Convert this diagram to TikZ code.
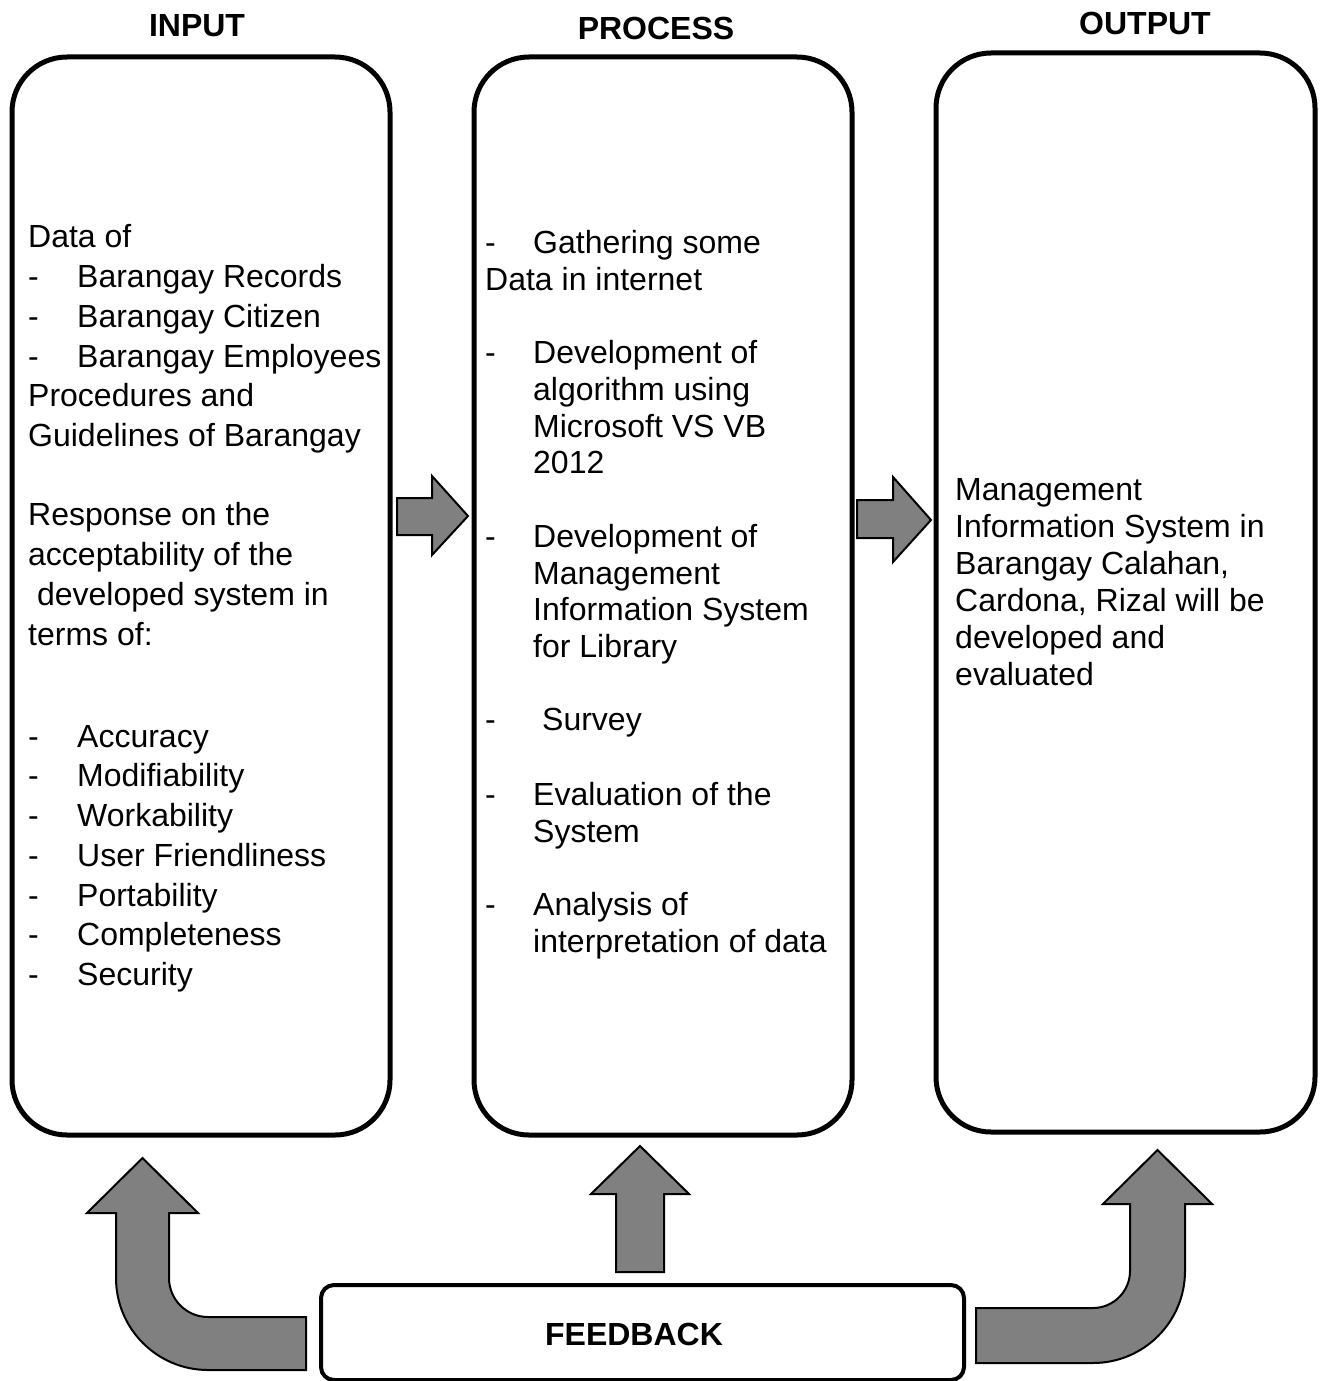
\documentclass[tikz,border=0pt]{standalone}
\usepackage{fontspec}
\setmainfont{Liberation Sans}
\definecolor{arrowgray}{HTML}{808080}
\newcommand\myDash[1][49pt]{\makebox[#1][l]{-}}
\begin{document}
\begin{tikzpicture}[x=1pt,y=-1pt,
  bigbox/.style={draw, line width=5pt, rounded corners=55pt, inner sep=0pt},
  fbbox/.style={draw, line width=4pt, rounded corners=13pt, inner sep=0pt},
  txt/.style={inner sep=0pt, anchor=base west, font=\fontsize{32}{37}\selectfont},
  head/.style={inner sep=0pt, anchor=base, font=\fontsize{32}{37}\selectfont\bfseries},
  blockarrow/.style={draw, line width=2pt, fill=arrowgray, line join=miter}]
\useasboundingbox (0,0) rectangle (1327,1381);

% headers
\node[head] (hin) at (197,37) {INPUT};
\node[head] (hpr) at (656,40) {PROCESS};
\node[head] (hout) at (1145,35) {OUTPUT};

% boxes
\node[bigbox, minimum width=378pt, minimum height=1078pt] (input) at (201,596) {};
\node[bigbox, minimum width=378pt, minimum height=1078pt] (process) at (663,596) {};
\node[bigbox, minimum width=379pt, minimum height=1079pt] (output) at (1125.5,592.5) {};
\node[fbbox, minimum width=643pt, minimum height=95pt] (feedback) at (642.5,1332.5) {};
\node[head] (fblabel) at (634,1345) {FEEDBACK};

% input text
\foreach \yy/\xx/\tx [count=\i] in {
  247/28/{Data of},
  287/28/{\myDash Barangay Records},
  327/28/{\myDash Barangay Citizen},
  367/28/{\myDash Barangay Employees},
  406/28/{Procedures and},
  446/28/{Guidelines of Barangay},
  525/28/{Response on the},
  565/28/{acceptability of the},
  605/28/{\ developed system in},
  645/28/{terms of:},
  747/28/{\myDash Accuracy},
  786/28/{\myDash Modifiability},
  826/28/{\myDash Workability},
  866/28/{\myDash User Friendliness},
  906/28/{\myDash Portability},
  945/28/{\myDash Completeness},
  985/28/{\myDash Security}}
  \node[txt] (in\i) at (\xx,\yy) {\tx};

% process text
\foreach \yy/\xx/\tx [count=\i] in {
  253/485/{\myDash[48pt]Gathering some},
  290/485/{Data in internet},
  363/485/{\myDash[48pt]Development of},
  400/533/{algorithm using},
  437/533/{Microsoft VS VB},
  473/533/{2012},
  547/485/{\myDash[48pt]Development of},
  584/533/{Management},
  620/533/{Information System},
  657/533/{for Library},
  730/485/{\myDash[57pt]Survey},
  805/485/{\myDash[48pt]Evaluation of the},
  842/533/{System},
  915/485/{\myDash[48pt]Analysis of},
  952/533/{interpretation of data}}
  \node[txt] (pr\i) at (\xx,\yy) {\tx};

% output text
\foreach \yy/\tx [count=\i] in {
  500/{Management},
  537/{Information System in},
  574/{Barangay Calahan,},
  611/{Cardona, Rizal will be},
  648/{developed and},
  685/{evaluated}}
  \node[txt] (out\i) at (955,\yy) {\tx};

% right block arrows
\draw[blockarrow] (397,498) -- (432,498) -- (432,476) -- (468,516) -- (432,555) -- (432,535) -- (397,535) -- cycle;
\draw[blockarrow] (857,500) -- (893,500) -- (893,477) -- (931,520) -- (893,562) -- (893,538) -- (857,538) -- cycle;

% up arrow (center)
\draw[blockarrow] (616,1272) -- (616,1194) -- (591,1194) -- (640,1146) -- (689,1194) -- (664,1194) -- (664,1272) -- cycle;

% left U arrow
\draw[blockarrow] (306,1317) -- (208,1317)
  .. controls (186.5,1317) and (169,1299.5) .. (169,1278)
  -- (169,1213) -- (198,1213) -- (142.5,1158) -- (87,1213) -- (116,1213)
  -- (116,1278) .. controls (116,1328.8) and (157.2,1370) .. (208,1370)
  -- (306,1370) -- cycle;

% right U arrow
\draw[blockarrow] (976,1308) -- (1093,1308)
  .. controls (1113.4,1308) and (1130,1291.4) .. (1130,1271)
  -- (1130,1204) -- (1103,1204) -- (1157.5,1150) -- (1212,1204) -- (1185,1204)
  -- (1185,1271) .. controls (1185,1321.8) and (1143.8,1363) .. (1093,1363)
  -- (976,1363) -- cycle;
\end{tikzpicture}
\end{document}
